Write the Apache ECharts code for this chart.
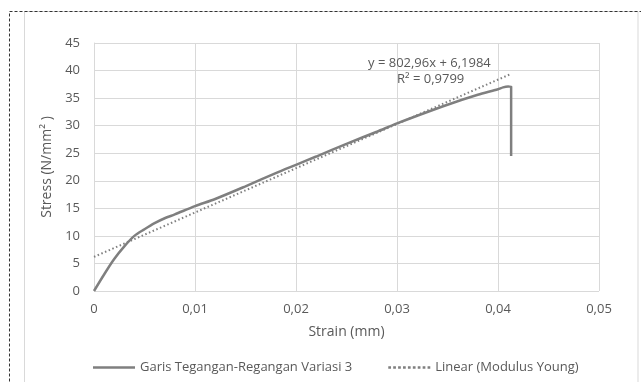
<!DOCTYPE html>
<html>
<head>
<meta charset="utf-8">
<script src="https://cdn.jsdelivr.net/npm/echarts@6/dist/echarts.min.js"></script>
<style>
html,body{margin:0;padding:0;background:#fff;}
#chart{width:641px;height:382px;}
</style>
</head>
<body>
<div id="chart"></div>
<script>
// Stress-strain curve
const strain = [0, 0.001, 0.002, 0.003, 0.004, 0.005, 0.006, 0.007, 0.008, 0.01, 0.012, 0.015, 0.018, 0.02, 0.022, 0.025, 0.028, 0.03, 0.032, 0.035, 0.038, 0.04, 0.0405, 0.041, 0.0413, 0.0413];
const stress = [0, 3.0, 5.8, 8.1, 10.0, 11.2, 12.3, 13.2, 13.9, 15.4, 16.7, 19.0, 21.4, 22.9, 24.4, 26.7, 28.9, 30.4, 31.8, 33.8, 35.6, 36.6, 36.95, 37.1, 37.05, 24.5];
// Linear trendline (Modulus Young) endpoints
const trendStrain = [0, 0.0413];
const trendStress = [6.2, 39.4];
const xTicks = [0, 0.01, 0.02, 0.03, 0.04, 0.05];
const yTicks = [0, 5, 10, 15, 20, 25, 30, 35, 40, 45];
const seriesNames = ['Garis Tegangan-Regangan Variasi 3', 'Linear (Modulus Young)'];
const trendLabels = ['y = 802,96x + 6,1984', 'R² = 0,9799'];

const FONT = 'Open Sans';
const TXT = '#595959';
const solidIcon = 'path://M0,0h40v2.5h-40z';
const dotIcon = 'path://' + Array.from({length: 9}, (_, i) => 'M' + (i * 4.5) + ',0h2.5v2.5h-2.5z').join('');
const chart = echarts.init(document.getElementById('chart'), null, {renderer: 'canvas'});
chart.setOption({
  animation: false,
  backgroundColor: '#fff',
  textStyle: {fontFamily: FONT, color: TXT},
  grid: {left: 94, right: 42, top: 43, bottom: 91, containLabel: false},
  xAxis: {
    type: 'value', min: 0, max: 0.05, interval: 0.01,
    name: 'Strain (mm)', nameLocation: 'middle', nameGap: 34,
    nameTextStyle: {fontFamily: FONT, fontSize: 14, color: TXT},
    axisLine: {show: false}, axisTick: {show: false},
    splitLine: {show: true, lineStyle: {color: '#d9d9d9', width: 1}},
    axisLabel: {fontFamily: FONT, fontSize: 13, color: TXT, margin: 12,
      formatter: v => (v === 0 ? '0' : v.toFixed(2).replace('.', ','))}
  },
  yAxis: {
    type: 'value', min: 0, max: 45, interval: 5,
    name: 'Stress (N/mm² )', nameLocation: 'middle', nameGap: 31,
    nameTextStyle: {fontFamily: FONT, fontSize: 14, color: TXT},
    axisLine: {show: true, lineStyle: {color: '#d9d9d9'}}, axisTick: {show: false},
    splitLine: {show: true, lineStyle: {color: '#d9d9d9', width: 1}},
    axisLabel: {fontFamily: FONT, fontSize: 13, color: TXT, margin: 14}
  },
  legend: {
    left: 88, top: 356, itemWidth: 42, itemHeight: 3, itemGap: 36,
    textStyle: {fontFamily: FONT, fontSize: 13, color: TXT},
    data: [
      {name: seriesNames[0], icon: solidIcon},
      {name: seriesNames[1], icon: dotIcon}
    ]
  },
  graphic: [
    {type: 'rect', shape: {x: 9.5, y: 11.5, width: 700, height: 500}, silent: true, z: 100,
      style: {fill: 'none', stroke: '#333', lineWidth: 1, lineDash: [3, 2]}},
    {type: 'rect', shape: {x: 24.5, y: 11.5, width: 613.5, height: 500}, silent: true, z: 99,
      style: {fill: 'none', stroke: '#d9d9d9', lineWidth: 1}},
    {type: 'text', left: 368, top: 57, silent: true, z: 100,
      style: {text: trendLabels[0], fontFamily: FONT, fontSize: 13, fill: TXT}},
    {type: 'text', left: 397, top: 73, silent: true, z: 100,
      style: {text: trendLabels[1], fontFamily: FONT, fontSize: 13, fill: TXT}}
  ],
  series: [
    {
      name: seriesNames[0], type: 'line', showSymbol: false, symbol: 'none', smooth: 0.3,
      data: strain.map((x, i) => [x, stress[i]]),
      lineStyle: {color: '#7f7f7f', width: 2.5}, itemStyle: {color: '#7f7f7f'}, z: 3
    },
    {
      name: seriesNames[1], type: 'line', showSymbol: false, symbol: 'none',
      data: trendStrain.map((x, i) => [x, trendStress[i]]),
      lineStyle: {color: '#7f7f7f', width: 2, type: [1.5, 2.5]}, itemStyle: {color: '#7f7f7f'}, z: 2
    }
  ]
});
</script>
</body>
</html>
